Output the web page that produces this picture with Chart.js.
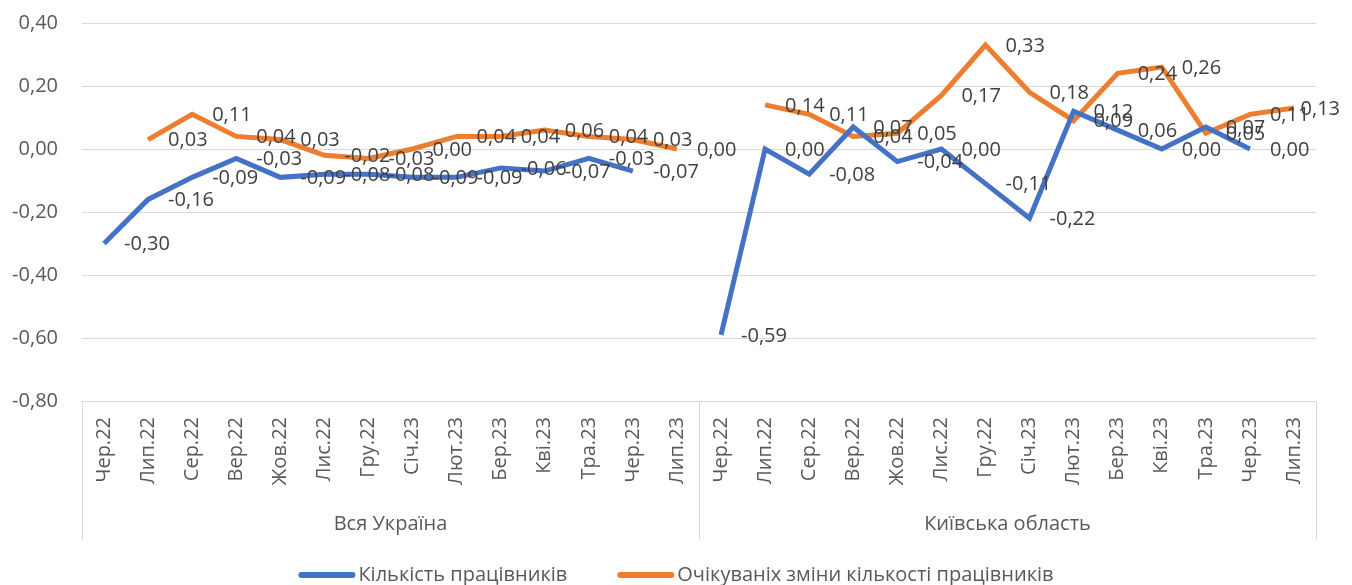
<!DOCTYPE html>
<html>
<head>
<meta charset="utf-8">
<script src="https://cdn.jsdelivr.net/npm/chart.js@4.4.0/dist/chart.umd.min.js"></script>
<style>
  html, body { margin: 0; padding: 0; background: #fff; }
</style>
</head>
<body>
<canvas id="chart" width="1352" height="585"></canvas>
<script>
// categories: the same 14 months repeated for each region
var months = ['Чер.22', 'Лип.22', 'Сер.22', 'Вер.22', 'Жов.22', 'Лис.22', 'Гру.22',
  'Січ.23', 'Лют.23', 'Бер.23', 'Кві.23', 'Тра.23', 'Чер.23', 'Лип.23'];
var regions = ['Вся Україна', 'Київська область'];
var seriesNames = ['Кількість працівників', 'Очікуваніх зміни кількості працівників'];

// Вся Україна
var uaStaff = [-0.30, -0.16, -0.09, -0.03, -0.09, -0.08, -0.08, -0.09, -0.09, -0.06, -0.07, -0.03, -0.07, null];
var uaExpected = [null, 0.03, 0.11, 0.04, 0.03, -0.02, -0.03, 0.00, 0.04, 0.04, 0.06, 0.04, 0.03, 0.00];

// Київська область
var kyivStaff = [-0.59, 0.00, -0.08, 0.07, -0.04, 0.00, -0.11, -0.22, 0.12, 0.06, 0.00, 0.07, 0.00, null];
var kyivExpected = [null, 0.14, 0.11, 0.04, 0.05, 0.17, 0.33, 0.18, 0.09, 0.24, 0.26, 0.05, 0.11, 0.13];

var yTicks = [-0.8, -0.6, -0.4, -0.2, 0, 0.2, 0.4];

var FONT = '"Open Sans", "Noto Sans", sans-serif';
var TEXT = '#595959';

function fmt(v) {
  return v.toFixed(2).replace('.', ',');
}

// value labels to the right of every point, like Excel's "Right" position
var pointLabels = {
  id: 'pointLabels',
  afterDatasetsDraw: function (chart) {
    var ctx = chart.ctx;
    ctx.save();
    ctx.font = '20px ' + FONT;
    ctx.fillStyle = '#404040';
    ctx.textBaseline = 'middle';
    ctx.textAlign = 'left';
    chart.data.datasets.forEach(function (ds, i) {
      var meta = chart.getDatasetMeta(i);
      meta.data.forEach(function (pt, j) {
        var v = ds.data[j];
        if (v === null || v === undefined) return;
        var txt = fmt(v);
        var w = ctx.measureText(txt).width;
        var x = Math.min(pt.x + 20, chart.width - 12 - w);
        ctx.fillText(txt, x, pt.y + 1);
      });
    });
    ctx.restore();
  }
};

// second level of the category axis: region names and separators
var regionAxis = {
  id: 'regionAxis',
  afterDraw: function (chart) {
    var ctx = chart.ctx;
    var xs = chart.scales.x;
    var n = months.length;
    var top = chart.chartArea.bottom;
    var bottom = top + 139;
    var step = xs.getPixelForValue(1) - xs.getPixelForValue(0);
    var edges = [xs.getPixelForValue(0) - step / 2];
    for (var g = 0; g < regions.length; g++) {
      edges.push(xs.getPixelForValue((g + 1) * n - 1) + step / 2);
    }
    ctx.save();
    ctx.strokeStyle = '#d9d9d9';
    ctx.lineWidth = 1;
    edges.forEach(function (x) {
      x = Math.round(x) + 0.5;
      ctx.beginPath();
      ctx.moveTo(x, top);
      ctx.lineTo(x, bottom);
      ctx.stroke();
    });
    ctx.font = '20px ' + FONT;
    ctx.fillStyle = TEXT;
    ctx.textAlign = 'center';
    ctx.textBaseline = 'middle';
    for (var k = 0; k < regions.length; k++) {
      ctx.fillText(regions[k], (edges[k] + edges[k + 1]) / 2, top + 123);
    }
    ctx.restore();
  }
};

// legend drawn under the axis with Excel-like line samples
var lineLegend = {
  id: 'lineLegend',
  afterDraw: function (chart) {
    var ctx = chart.ctx;
    var sample = 57, gapText = 3, gapItem = 50;
    ctx.save();
    ctx.font = '20px ' + FONT;
    var total = 0;
    var items = chart.data.datasets.map(function (ds) {
      var w = ctx.measureText(ds.label).width;
      total += sample + gapText + w;
      return { label: ds.label, color: ds.borderColor, w: w };
    });
    total += gapItem * (items.length - 1);
    var x = chart.width / 2 - total / 2;
    var y = 575;
    ctx.textBaseline = 'middle';
    ctx.textAlign = 'left';
    items.forEach(function (it) {
      ctx.strokeStyle = it.color;
      ctx.lineWidth = 6;
      ctx.lineCap = 'round';
      ctx.beginPath();
      ctx.moveTo(x + 3, y);
      ctx.lineTo(x + sample - 3, y);
      ctx.stroke();
      ctx.fillStyle = TEXT;
      ctx.fillText(it.label, x + sample + gapText, y);
      x += sample + gapText + it.w + gapItem;
    });
    ctx.restore();
  }
};

var chart = new Chart(document.getElementById('chart').getContext('2d'), {
  type: 'line',
  data: {
    labels: months.concat(months),
    datasets: [
      {
        label: seriesNames[0],
        data: uaStaff.concat(kyivStaff),
        borderColor: '#4472c4',
        backgroundColor: '#4472c4',
        borderWidth: 5,
        pointRadius: 0,
        tension: 0,
        spanGaps: false
      },
      {
        label: seriesNames[1],
        data: uaExpected.concat(kyivExpected),
        borderColor: '#ed7d31',
        backgroundColor: '#ed7d31',
        borderWidth: 5,
        pointRadius: 0,
        tension: 0,
        spanGaps: false
      }
    ]
  },
  options: {
    responsive: false,
    animation: false,
    layout: { padding: { top: 23, left: 0, right: 36, bottom: 39 } },
    plugins: {
      legend: { display: false },
      tooltip: { enabled: false }
    },
    scales: {
      x: {
        offset: true,
        grid: { display: false, drawTicks: false },
        border: { display: false },
        ticks: {
          autoSkip: false,
          maxRotation: 90,
          minRotation: 90,
          padding: 16,
          color: TEXT,
          font: { family: FONT, size: 20 }
        },
        afterFit: function (scale) { scale.height = 145; }
      },
      y: {
        min: yTicks[0],
        max: yTicks[yTicks.length - 1],
        afterBuildTicks: function (scale) {
          scale.ticks = yTicks.map(function (v) { return { value: v }; });
        },
        grid: { color: '#d9d9d9', lineWidth: 1, drawTicks: true, tickLength: 24, tickColor: 'rgba(0,0,0,0)' },
        border: { display: false },
        ticks: {
          padding: 0,
          color: TEXT,
          font: { family: FONT, size: 20 },
          callback: function (v) { return fmt(v); }
        },
        afterFit: function (scale) { scale.width = 82; }
      }
    }
  },
  plugins: [pointLabels, regionAxis, lineLegend]
});
</script>
</body>
</html>
